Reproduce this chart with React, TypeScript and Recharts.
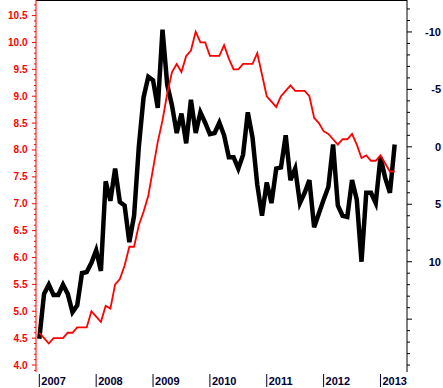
import { LineChart, Line, XAxis, YAxis, ReferenceLine } from 'recharts'

// monthly points, Jan 2007 .. Apr 2013 (index 0 = Jan 2007)
const redSeries = [
  4.6, 4.5, 4.4, 4.5, 4.5, 4.5, 4.6, 4.6, 4.7, 4.7,
  4.7, 5.0, 4.9, 4.8, 5.1, 5.05, 5.5, 5.6, 5.85, 6.2,
  6.2, 6.6, 6.85, 7.15, 7.65, 8.15, 8.55, 9.05, 9.45, 9.6,
  9.45, 9.75, 9.85, 10.2, 10.0, 10.0, 9.75, 9.75, 9.75, 9.95,
  9.7, 9.5, 9.5, 9.6, 9.6, 9.6, 9.8, 9.4, 9.0, 8.9,
  8.8, 9.0, 9.1, 9.2, 9.1, 9.1, 9.1, 9.0, 8.6, 8.5,
  8.35, 8.3, 8.2, 8.1, 8.2, 8.2, 8.3, 8.1, 7.85, 7.9,
  7.8, 7.8, 7.9, 7.75, 7.6, 7.6,
]

// right axis (inverted)
const blackSeries = [
  16.7, 12.8, 12.0, 12.9, 12.9, 12.0, 12.8, 14.4, 13.8, 11.0,
  10.9, 10.1, 9.0, 10.8, 3.0, 4.7, 1.9, 4.8, 5.1, 8.3,
  6.0, 0.0, -4.3, -6.1, -5.8, -3.4, -10.2, -5.4, -3.6, -1.2,
  -2.9, -0.3, -4.1, -1.2, -3.0, -2.1, -1.1, -1.2, -2.1, -1.0,
  0.9, 0.9, 1.9, 0.7, -3.0, -0.8, 3.3, 6.0, 3.1, 4.9,
  1.9, 1.8, -1.0, 2.9, 1.9, 4.9, 4.0, 2.9, 7.0, 5.8,
  4.6, 3.5, -0.2, 5.1, 6.0, 6.1, 2.9, 4.6, 10.0, 4.0,
  4.0, 4.9, 0.9, 2.7, 4.0, -0.2,
]

const years = ['2007', '2008', '2009', '2010', '2011', '2012', '2013']
const yearTicks = years.map((_, i) => i * 12)

const leftMajor = ['4.0', '4.5', '5.0', '5.5', '6.0', '6.5', '7.0', '7.5', '8.0', '8.5', '9.0', '9.5', '10.0', '10.5']
const rightMajor = [-10, -5, 0, 5, 10]

const LEFT_MIN = 3.87
const LEFT_MAX = 10.79
const RIGHT_MIN = -12.78
const RIGHT_MAX = 19.6

const leftTicks: number[] = []
for (let v = 39; v <= 107; v++) leftTicks.push(v / 10)
const rightTicks: number[] = []
for (let v = -12; v <= 19; v++) rightTicks.push(v)

const data = redSeries.map((r, i) => ({ m: i, red: r, black: blackSeries[i] }))

const FONT = '"Liberation Sans", Arial, sans-serif'

const LeftTick = ({ x, y, payload }: any) => {
  const label = payload.value.toFixed(1)
  const major = leftMajor.includes(label)
  return (
    <g>
      <line x1={x - (major ? 4 : 2)} x2={x} y1={y} y2={y} stroke="#ff0000" />
      {major && (
        <text x={x - 8.5} y={y} dy={3.5} textAnchor="end" fill="#ff0000"
          fontSize={10} fontWeight="bold" fontFamily={FONT}>
          {label}
        </text>
      )}
    </g>
  )
}

const RightTick = ({ x, y, payload }: any) => {
  const major = payload.value % 5 === 0
  const labelled = rightMajor.includes(payload.value)
  return (
    <g>
      <line x1={x} x2={x + (major ? 5 : 3)} y1={y} y2={y} stroke="#000" />
      {labelled && (
        <text x={x + 34} y={y} dy={4} textAnchor="end" fill="#000033"
          fontSize={11} fontWeight="bold" fontFamily={FONT}>
          {payload.value}
        </text>
      )}
    </g>
  )
}

const YearTick = ({ x, y, payload }: any) => {
  const idx = yearTicks.indexOf(payload.value)
  return (
    <g>
      <line x1={x} x2={x} y1={y + 2} y2={y + 15} stroke="#000033" />
      <text x={x + 2} y={y + 13} textAnchor="start" fill="#000033"
        fontSize={11} fontWeight="bold" fontFamily={FONT}>
        {years[idx]}
      </text>
    </g>
  )
}

export default function App() {
  return (
    <div style={{ position: 'absolute', left: 0, top: 0, width: 443, height: 388, background: '#fff' }}>
      <LineChart width={443} height={388} data={data} margin={{ top: 0, right: 0, bottom: 0, left: 0 }}>
        <XAxis
          dataKey="m"
          type="number"
          domain={[-0.7, 77.6]}
          ticks={yearTicks}
          interval={0}
          height={16}
          axisLine={false}
          tickLine={false}
          tickSize={0}
          tickMargin={0}
          tick={<YearTick />}
          allowDataOverflow
        />
        <YAxis
          yAxisId="left"
          orientation="left"
          width={36}
          domain={[LEFT_MIN, LEFT_MAX]}
          ticks={leftTicks}
          interval={0}
          allowDataOverflow
          axisLine={{ stroke: '#ff0000' }}
          tickLine={false}
          tickSize={0}
          tickMargin={0}
          tick={<LeftTick />}
        />
        <YAxis
          yAxisId="right"
          orientation="right"
          width={36}
          reversed
          domain={[RIGHT_MIN, RIGHT_MAX]}
          ticks={rightTicks}
          interval={0}
          allowDataOverflow
          axisLine={{ stroke: '#000' }}
          tickLine={false}
          tickSize={0}
          tickMargin={0}
          tick={<RightTick />}
        />
        <ReferenceLine yAxisId="left" y={LEFT_MAX} stroke="#000" strokeWidth={2} ifOverflow="visible" />
        <Line
          yAxisId="right"
          dataKey="black"
          type="linear"
          stroke="#000"
          strokeWidth={4.5}
          dot={false}
          isAnimationActive={false}
        />
        <Line
          yAxisId="left"
          dataKey="red"
          type="linear"
          stroke="#ff0000"
          strokeWidth={1.8}
          dot={false}
          isAnimationActive={false}
        />
      </LineChart>
    </div>
  )
}
